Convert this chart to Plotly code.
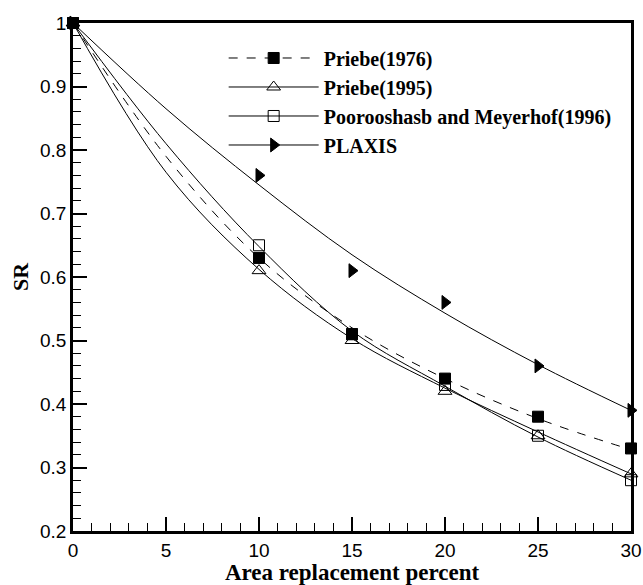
import plotly.graph_objects as go

# Data points (markers)
x_pts = [0, 10, 15, 20, 25, 30]
priebe1976 = [1.0, 0.63, 0.51, 0.44, 0.38, 0.33]
priebe1995 = [1.0, 0.61, 0.50, 0.42, 0.35, 0.29]
poorooshasb = [1.0, 0.65, 0.51, 0.43, 0.35, 0.28]
plaxis = [1.0, 0.76, 0.61, 0.56, 0.46, 0.39]

# Fitted curves
x_fit = [0, 5, 10, 15, 20, 25, 30]
fit_priebe1976 = [1.0, 0.79, 0.63, 0.52, 0.44, 0.377, 0.328]
fit_priebe1995 = [1.0, 0.765, 0.612, 0.503, 0.425, 0.356, 0.29]
fit_poorooshasb = [1.0, 0.81, 0.648, 0.515, 0.428, 0.348, 0.28]
fit_plaxis = [1.0, 0.865, 0.745, 0.635, 0.543, 0.462, 0.39]

names = ["Priebe(1976)", "Priebe(1995)", "Poorooshasb and Meyerhof(1996)", "PLAXIS"]

series = [
    (names[0], priebe1976, fit_priebe1976, "square", "black", "dash", 11),
    (names[1], priebe1995, fit_priebe1995, "triangle-up-open", "black", "solid", 12),
    (names[2], poorooshasb, fit_poorooshasb, "square-open", "black", "solid", 11),
    (names[3], plaxis, fit_plaxis, "triangle-right", "black", "solid", 12),
]

fig = go.Figure()
for name, pts, fit, sym, col, dash, sz in series:
    fig.add_trace(go.Scatter(
        x=x_fit, y=fit, mode="lines", line=dict(color=col, width=1, dash=dash, shape="spline"),
        showlegend=False, hoverinfo="skip"))
    fig.add_trace(go.Scatter(
        x=x_pts, y=pts, mode="markers",
        marker=dict(symbol=sym, size=sz, color=col, line=dict(color=col, width=1)),
        showlegend=False, cliponaxis=False))
    fig.add_trace(go.Scatter(
        x=[None], y=[None], mode="lines+markers", name="<b>%s</b>" % name,
        line=dict(color=col, width=1, dash=dash),
        marker=dict(symbol=sym, size=sz, color=col, line=dict(color=col, width=1))))

axis_common = dict(
    showgrid=False, zeroline=False, showline=True, linecolor="black", linewidth=2.5,
    mirror=True, ticks="inside", ticklen=14, tickwidth=2, tickcolor="black",
    tickfont=dict(family="Liberation Sans", size=19, color="black"),
    automargin=False,
)

fig.update_xaxes(range=[0, 30], tickvals=[0, 5, 10, 15, 20, 25, 30],
                 minor=dict(dtick=1, ticks="inside", ticklen=8, tickwidth=1, tickcolor="black"),
                 title=dict(text="<b>Area replacement percent</b>",
                            font=dict(family="Liberation Serif", size=23, color="black"), standoff=4),
                 **axis_common)
fig.update_yaxes(range=[0.2, 1.0], tickvals=[0.2, 0.3, 0.4, 0.5, 0.6, 0.7, 0.8, 0.9, 1.0],
                 ticktext=["0.2", "0.3", "0.4", "0.5", "0.6", "0.7", "0.8", "0.9", "1"],
                 minor=dict(dtick=0.02, ticks="inside", ticklen=8, tickwidth=1, tickcolor="black"),
                 title=dict(text="<b>SR</b>",
                            font=dict(family="Liberation Serif", size=22, color="black"), standoff=6),
                 **axis_common)

fig.update_layout(
    width=643, height=585,
    margin=dict(l=73, r=12, t=23, b=54),
    plot_bgcolor="white", paper_bgcolor="white",
    legend=dict(x=0.27, y=0.9695, xanchor="left", yanchor="top",
                bgcolor="rgba(0,0,0,0)", itemwidth=90, tracegroupgap=0,
                font=dict(family="Liberation Serif", size=20, color="black")),
)

fig.write_html("out.html")
